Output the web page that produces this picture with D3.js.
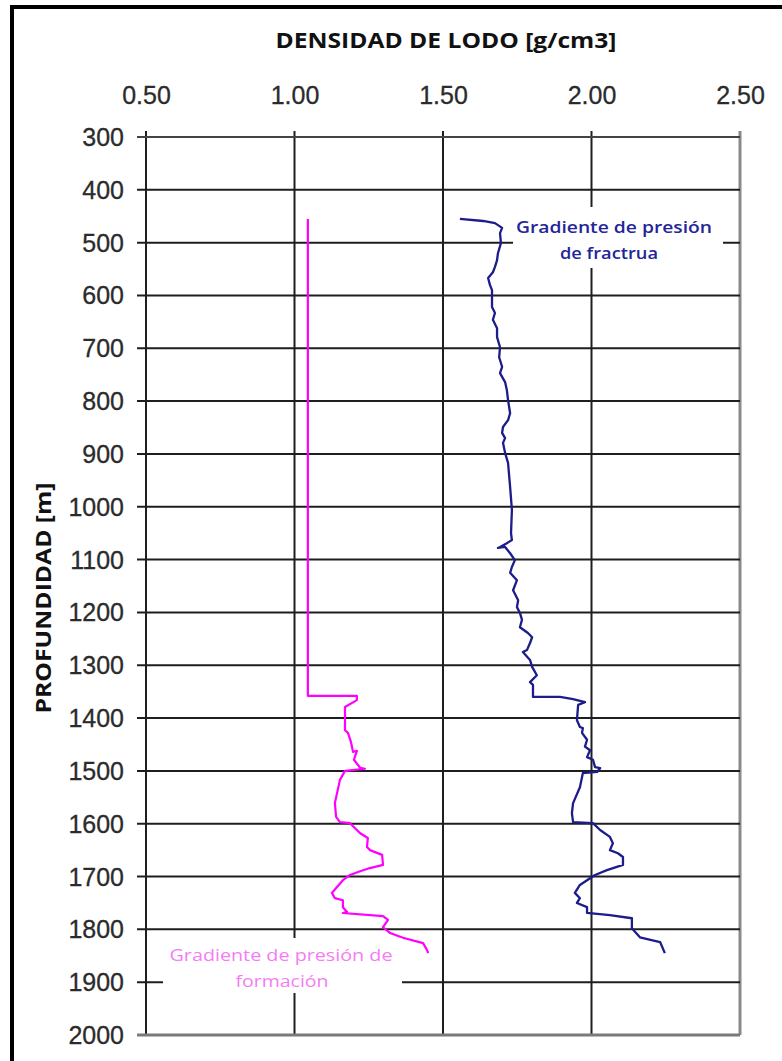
<!DOCTYPE html>
<html>
<head>
<meta charset="utf-8">
<script src="https://cdn.jsdelivr.net/npm/d3@7"></script>
<style>
  html, body { margin: 0; padding: 0; background: #fff; }
  svg { display: block; }
</style>
</head>
<body>
<svg id="chart" width="782" height="1061"></svg>
<script>
// Mud-density window: formation pore-pressure and fracture gradients vs depth
const densityTicks = [0.5, 1.0, 1.5, 2.0, 2.5];
const depthTicks = [300, 400, 500, 600, 700, 800, 900, 1000, 1100, 1200, 1300, 1400, 1500, 1600, 1700, 1800, 1900, 2000];

// Fracture gradient (g/cm3) by depth (m)
const fracDepth = [455,459,463,472,482,501,520,533,546,556,567,580,590,609,622,633,646,662,679,698,717,735,747,764,779,798,823,836,849,860,870,879,898,917,963,1006,1050,1063,1069,1076,1078,1076,1088,1101,1114,1125,1139,1158,1177,1190,1201,1214,1228,1239,1247,1258,1271,1275,1290,1303,1319,1332,1337,1360,1360,1364,1370,1375,1404,1417,1419,1428,1441,1454,1461,1474,1479,1493,1495,1502,1504,1531,1561,1580,1597,1599,1612,1625,1637,1650,1656,1663,1678,1688,1697,1707,1716,1731,1741,1750,1758,1769,1773,1779,1798,1815,1824,1845];
const fracDensity = [1.557,1.635,1.675,1.699,1.692,1.695,1.685,1.682,1.675,1.668,1.652,1.658,1.665,1.665,1.665,1.675,1.668,1.682,1.682,1.692,1.689,1.699,1.692,1.709,1.715,1.719,1.726,1.719,1.702,1.699,1.709,1.702,1.709,1.719,1.726,1.732,1.729,1.732,1.715,1.692,1.685,1.709,1.726,1.742,1.732,1.726,1.749,1.736,1.753,1.749,1.759,1.766,1.759,1.786,1.800,1.793,1.783,1.769,1.793,1.800,1.816,1.793,1.803,1.803,1.894,1.938,1.978,1.955,1.951,1.961,1.971,1.968,1.985,1.978,1.995,1.985,2.005,2.012,2.029,2.019,1.971,1.961,1.938,1.934,1.938,2.005,2.029,2.062,2.072,2.062,2.089,2.106,2.106,2.052,2.012,1.985,1.961,1.944,1.961,1.951,1.985,1.985,2.062,2.136,2.136,2.163,2.231,2.247];

// Formation (pore) pressure gradient (g/cm3) by depth (m)
const formDepth = [455,1358,1358,1366,1379,1423,1428,1445,1464,1462,1479,1494,1496,1500,1517,1561,1587,1597,1599,1618,1627,1644,1650,1659,1678,1684,1690,1697,1707,1720,1731,1741,1745,1758,1767,1769,1775,1782,1796,1807,1816,1826,1839,1845];
const formDensity = [1.045,1.045,1.210,1.210,1.170,1.170,1.180,1.190,1.197,1.210,1.200,1.221,1.237,1.170,1.153,1.136,1.140,1.153,1.187,1.221,1.247,1.244,1.254,1.295,1.298,1.254,1.221,1.187,1.163,1.143,1.126,1.136,1.163,1.163,1.177,1.163,1.298,1.315,1.298,1.322,1.365,1.433,1.446,1.450];

const svg = d3.select("#chart");

// Outer frame (left and top edges)
svg.append("line").attr("x1", 12).attr("x2", 12).attr("y1", 5).attr("y2", 1061)
  .attr("stroke", "#000").attr("stroke-width", 4);
svg.append("line").attr("x1", 10).attr("x2", 782).attr("y1", 7).attr("y2", 7)
  .attr("stroke", "#000").attr("stroke-width", 4);

const x = d3.scaleLinear().domain([0.5, 2.5]).range([146, 740]);
const y = d3.scaleLinear().domain([300, 2000]).range([137, 1035]);

const gridColor = "#1e1e1e";

// Grid
const grid = svg.append("g");
grid.selectAll("line.v").data(densityTicks).join("line")
  .attr("class", "v")
  .attr("x1", d => x(d)).attr("x2", d => x(d))
  .attr("y1", y(300) - 6).attr("y2", y(2000))
  .attr("stroke", d => d === 2.5 ? "#8a8a8a" : gridColor)
  .attr("stroke-width", d => d === 2.5 ? 3 : 2);
grid.selectAll("line.h").data(depthTicks).join("line")
  .attr("class", "h")
  .attr("x1", x(0.5) - 9).attr("x2", x(2.5))
  .attr("y1", d => y(d)).attr("y2", d => y(d))
  .attr("stroke", d => d === 2000 ? "#7a7a7a" : (d === 300 ? "#444" : gridColor))
  .attr("stroke-width", d => d === 2000 ? 3 : 2);

// Axes (labels only; tick marks come from the grid)
const xAxis = svg.append("g").attr("transform", `translate(0,${y(300)})`)
  .call(d3.axisTop(x).tickValues(densityTicks).tickFormat(d3.format(".2f")).tickSize(0).tickPadding(33));
const yAxis = svg.append("g").attr("transform", `translate(${x(0.5)},0)`)
  .call(d3.axisLeft(y).tickValues(depthTicks).tickFormat(d3.format("d")).tickSize(0).tickPadding(22));
[xAxis, yAxis].forEach(a => {
  a.select(".domain").remove();
  a.selectAll("text")
    .attr("font-family", "'Liberation Sans', Arial, sans-serif")
    .attr("font-size", 25)
    .attr("fill", "#2b2b2b")
    .attr("stroke", "#2b2b2b").attr("stroke-width", 0.3);
});
xAxis.selectAll("text").attr("dy", "0em");
yAxis.selectAll("text").attr("dy", "0.34em");

// Series lines
const line = d3.line().x(d => x(d[1])).y(d => y(d[0]));
svg.append("path")
  .datum(d3.zip(formDepth, formDensity))
  .attr("d", line)
  .attr("fill", "none").attr("stroke", "#ff00ff").attr("stroke-width", 2.2)
  .attr("stroke-linejoin", "round");
svg.append("path")
  .datum(d3.zip(fracDepth, fracDensity))
  .attr("d", line)
  .attr("fill", "none").attr("stroke", "#1c1c8a").attr("stroke-width", 2.3)
  .attr("stroke-linejoin", "round");

// Series labels on white boxes
const labelFont = "'Open Sans', 'Noto Sans', sans-serif";
svg.append("rect").attr("x", 513).attr("y", 207).attr("width", 210).attr("height", 61).attr("fill", "#fff");
svg.append("text").attr("x", 614).attr("y", 233).attr("text-anchor", "middle")
  .attr("font-family", labelFont).attr("font-weight", 600).attr("font-size", 17)
  .attr("fill", "#25259a").attr("textLength", 196).attr("lengthAdjust", "spacingAndGlyphs")
  .text("Gradiente de presión");
svg.append("text").attr("x", 609).attr("y", 259).attr("text-anchor", "middle")
  .attr("font-family", labelFont).attr("font-weight", 600).attr("font-size", 17)
  .attr("fill", "#25259a").attr("textLength", 98).attr("lengthAdjust", "spacingAndGlyphs")
  .text("de fractrua");

svg.append("rect").attr("x", 163).attr("y", 938).attr("width", 239).attr("height", 55).attr("fill", "#fff");
svg.append("text").attr("x", 281).attr("y", 961).attr("text-anchor", "middle")
  .attr("font-family", labelFont).attr("font-size", 17)
  .attr("fill", "#f47cf4").attr("textLength", 223).attr("lengthAdjust", "spacingAndGlyphs")
  .text("Gradiente de presión de");
svg.append("text").attr("x", 282).attr("y", 987).attr("text-anchor", "middle")
  .attr("font-family", labelFont).attr("font-size", 17)
  .attr("fill", "#f47cf4").attr("textLength", 93).attr("lengthAdjust", "spacingAndGlyphs")
  .text("formación");

// Axis titles
svg.append("text").attr("x", 446).attr("y", 48).attr("text-anchor", "middle")
  .attr("font-family", labelFont).attr("font-weight", 700).attr("font-size", 22)
  .attr("fill", "#111").attr("textLength", 341).attr("lengthAdjust", "spacingAndGlyphs")
  .text("DENSIDAD DE LODO [g/cm3]");
svg.append("text")
  .attr("transform", "translate(51,598) rotate(-90)")
  .attr("text-anchor", "middle")
  .attr("font-family", labelFont).attr("font-weight", 700).attr("font-size", 22)
  .attr("fill", "#111").attr("textLength", 231).attr("lengthAdjust", "spacingAndGlyphs")
  .text("PROFUNDIDAD [m]");
</script>
</body>
</html>
